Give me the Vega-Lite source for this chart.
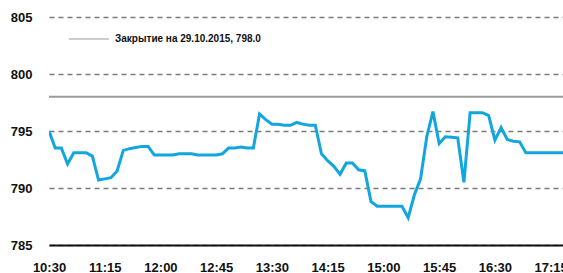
{
  "$schema": "https://vega.github.io/schema/vega-lite/v6.json",
  "autosize": "none",
  "width": 514,
  "height": 228,
  "padding": {"left": 49, "top": 17, "right": 0, "bottom": 28},
  "background": "white",
  "config": {
    "view": {"stroke": null},
    "font": "Liberation Sans"
  },
  "layer": [
    {
      "data": {"values": [{"close": 798, "label": "Закрытие на 29.10.2015, 798.0"}]},
      "mark": {"type": "rule", "strokeWidth": 2},
      "encoding": {
        "y": {"field": "close", "type": "quantitative", "scale": {"domain": [785, 805]}},
        "color": {
          "field": "label",
          "type": "nominal",
          "scale": {"range": ["#9b9b9b"]},
          "legend": {
            "orient": "none",
            "legendX": 19,
            "legendY": 1,
            "title": null,
            "padding": 0,
            "symbolType": "stroke",
            "symbolSize": 1600,
            "symbolStrokeWidth": 1.2,
            "labelFont": "Liberation Sans",
            "labelFontWeight": "bold",
            "labelFontSize": 10,
            "labelColor": "#111",
            "labelOffset": 5,
            "labelLimit": 300
          }
        }
      }
    },
    {
      "data": {"values": [
        {"time": "2015-10-30T10:30:00", "price": 795.0},
        {"time": "2015-10-30T10:35:00", "price": 793.5},
        {"time": "2015-10-30T10:40:00", "price": 793.5},
        {"time": "2015-10-30T10:45:00", "price": 792.1},
        {"time": "2015-10-30T10:50:00", "price": 793.1},
        {"time": "2015-10-30T10:55:00", "price": 793.1},
        {"time": "2015-10-30T11:00:00", "price": 793.1},
        {"time": "2015-10-30T11:05:00", "price": 792.8},
        {"time": "2015-10-30T11:10:00", "price": 790.7},
        {"time": "2015-10-30T11:15:00", "price": 790.8},
        {"time": "2015-10-30T11:20:00", "price": 790.9},
        {"time": "2015-10-30T11:25:00", "price": 791.5},
        {"time": "2015-10-30T11:30:00", "price": 793.3},
        {"time": "2015-10-30T11:35:00", "price": 793.45},
        {"time": "2015-10-30T11:40:00", "price": 793.55},
        {"time": "2015-10-30T11:45:00", "price": 793.65},
        {"time": "2015-10-30T11:50:00", "price": 793.65},
        {"time": "2015-10-30T11:55:00", "price": 792.9},
        {"time": "2015-10-30T12:00:00", "price": 792.9},
        {"time": "2015-10-30T12:05:00", "price": 792.9},
        {"time": "2015-10-30T12:10:00", "price": 792.9},
        {"time": "2015-10-30T12:15:00", "price": 793.0},
        {"time": "2015-10-30T12:20:00", "price": 793.0},
        {"time": "2015-10-30T12:25:00", "price": 793.0},
        {"time": "2015-10-30T12:30:00", "price": 792.9},
        {"time": "2015-10-30T12:35:00", "price": 792.9},
        {"time": "2015-10-30T12:40:00", "price": 792.9},
        {"time": "2015-10-30T12:45:00", "price": 792.9},
        {"time": "2015-10-30T12:50:00", "price": 793.0},
        {"time": "2015-10-30T12:55:00", "price": 793.5},
        {"time": "2015-10-30T13:00:00", "price": 793.5},
        {"time": "2015-10-30T13:05:00", "price": 793.6},
        {"time": "2015-10-30T13:10:00", "price": 793.5},
        {"time": "2015-10-30T13:15:00", "price": 793.5},
        {"time": "2015-10-30T13:20:00", "price": 796.5},
        {"time": "2015-10-30T13:25:00", "price": 796.0},
        {"time": "2015-10-30T13:30:00", "price": 795.6},
        {"time": "2015-10-30T13:35:00", "price": 795.6},
        {"time": "2015-10-30T13:40:00", "price": 795.5},
        {"time": "2015-10-30T13:45:00", "price": 795.5},
        {"time": "2015-10-30T13:50:00", "price": 795.75},
        {"time": "2015-10-30T13:55:00", "price": 795.6},
        {"time": "2015-10-30T14:00:00", "price": 795.5},
        {"time": "2015-10-30T14:05:00", "price": 795.5},
        {"time": "2015-10-30T14:10:00", "price": 793.0},
        {"time": "2015-10-30T14:15:00", "price": 792.4},
        {"time": "2015-10-30T14:20:00", "price": 791.9},
        {"time": "2015-10-30T14:25:00", "price": 791.2},
        {"time": "2015-10-30T14:30:00", "price": 792.2},
        {"time": "2015-10-30T14:35:00", "price": 792.2},
        {"time": "2015-10-30T14:40:00", "price": 791.6},
        {"time": "2015-10-30T14:45:00", "price": 791.5},
        {"time": "2015-10-30T14:50:00", "price": 788.8},
        {"time": "2015-10-30T14:55:00", "price": 788.4},
        {"time": "2015-10-30T15:00:00", "price": 788.4},
        {"time": "2015-10-30T15:05:00", "price": 788.4},
        {"time": "2015-10-30T15:10:00", "price": 788.4},
        {"time": "2015-10-30T15:15:00", "price": 788.4},
        {"time": "2015-10-30T15:20:00", "price": 787.4},
        {"time": "2015-10-30T15:25:00", "price": 789.4},
        {"time": "2015-10-30T15:30:00", "price": 790.8},
        {"time": "2015-10-30T15:35:00", "price": 794.5},
        {"time": "2015-10-30T15:40:00", "price": 796.7},
        {"time": "2015-10-30T15:45:00", "price": 793.9},
        {"time": "2015-10-30T15:50:00", "price": 794.5},
        {"time": "2015-10-30T15:55:00", "price": 794.45},
        {"time": "2015-10-30T16:00:00", "price": 794.4},
        {"time": "2015-10-30T16:05:00", "price": 790.5},
        {"time": "2015-10-30T16:10:00", "price": 796.6},
        {"time": "2015-10-30T16:15:00", "price": 796.6},
        {"time": "2015-10-30T16:20:00", "price": 796.6},
        {"time": "2015-10-30T16:25:00", "price": 796.35},
        {"time": "2015-10-30T16:30:00", "price": 794.2},
        {"time": "2015-10-30T16:35:00", "price": 795.3},
        {"time": "2015-10-30T16:40:00", "price": 794.25},
        {"time": "2015-10-30T16:45:00", "price": 794.1},
        {"time": "2015-10-30T16:50:00", "price": 794.05},
        {"time": "2015-10-30T16:55:00", "price": 793.1},
        {"time": "2015-10-30T17:00:00", "price": 793.1},
        {"time": "2015-10-30T17:05:00", "price": 793.1},
        {"time": "2015-10-30T17:10:00", "price": 793.1},
        {"time": "2015-10-30T17:15:00", "price": 793.1},
        {"time": "2015-10-30T17:20:00", "price": 793.1},
        {"time": "2015-10-30T17:25:00", "price": 793.1}
      ]},
      "mark": {"type": "line", "color": "#12a6df", "strokeWidth": 3, "strokeJoin": "miter", "clip": true},
      "encoding": {
        "x": {
          "field": "time",
          "type": "temporal",
          "scale": {"domain": [
            {"year": 2015, "month": 10, "date": 30, "hours": 10, "minutes": 30},
            {"year": 2015, "month": 10, "date": 30, "hours": 17, "minutes": 25}
          ]},
          "axis": {
            "title": null,
            "values": [
              {"year": 2015, "month": 10, "date": 30, "hours": 10, "minutes": 30},
              {"year": 2015, "month": 10, "date": 30, "hours": 11, "minutes": 15},
              {"year": 2015, "month": 10, "date": 30, "hours": 12, "minutes": 0},
              {"year": 2015, "month": 10, "date": 30, "hours": 12, "minutes": 45},
              {"year": 2015, "month": 10, "date": 30, "hours": 13, "minutes": 30},
              {"year": 2015, "month": 10, "date": 30, "hours": 14, "minutes": 15},
              {"year": 2015, "month": 10, "date": 30, "hours": 15, "minutes": 0},
              {"year": 2015, "month": 10, "date": 30, "hours": 15, "minutes": 45},
              {"year": 2015, "month": 10, "date": 30, "hours": 16, "minutes": 30},
              {"year": 2015, "month": 10, "date": 30, "hours": 17, "minutes": 15}
            ],
            "format": "%H:%M",
            "grid": false,
            "ticks": false,
            "tickSize": 0,
            "domain": true,
            "domainColor": "#111",
            "domainWidth": 2,
            "labelFont": "Liberation Sans",
            "labelFontWeight": "bold",
            "labelFontSize": 13,
            "labelColor": "#111",
            "labelPadding": 16,
            "labelFlush": false,
            "labelOverlap": false,
            "labelBound": false
          }
        },
        "y": {
          "field": "price",
          "type": "quantitative",
          "scale": {"domain": [785, 805], "nice": false, "zero": false},
          "axis": {
            "title": null,
            "values": [785, 790, 795, 800, 805],
            "grid": true,
            "gridDash": [5, 4],
            "gridColor": "#7a7a7a",
            "gridWidth": 1.6,
            "domain": false,
            "ticks": false,
            "tickSize": 0,
            "labelFont": "Liberation Sans",
            "labelFontWeight": "bold",
            "labelFontSize": 13,
            "labelColor": "#111",
            "labelPadding": 17
          }
        }
      }
    }
  ]
}
